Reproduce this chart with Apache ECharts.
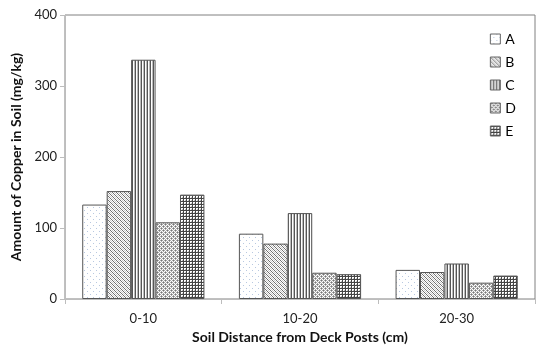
<!DOCTYPE html>
<html><head><meta charset="utf-8">
<script src="https://cdn.jsdelivr.net/npm/echarts@6/dist/echarts.min.js"></script>
<style>html,body{margin:0;padding:0;background:#fff}#c{width:537px;height:349px}</style>
</head><body><div id="c"></div>
<script>
const categories = ['0-10', '10-20', '20-30'];
const seriesNames = ['A', 'B', 'C', 'D', 'E'];
const valuesA = [133, 92, 41];
const valuesB = [152, 78, 38];
const valuesC = [337, 121, 50];
const valuesD = [108, 37, 23];
const valuesE = [147, 35, 33];
const yTicks = [0, 100, 200, 300, 400];

function makePattern(w, h, draw) {
  const c = document.createElement('canvas');
  c.width = w; c.height = h;
  const ctx = c.getContext('2d');
  ctx.fillStyle = '#fff'; ctx.fillRect(0, 0, w, h);
  draw(ctx);
  return { image: c, repeat: 'repeat' };
}
const patA = makePattern(6, 6, ctx => {
  ctx.fillStyle = '#b8c8e0';
  ctx.fillRect(0, 0, 1, 1);
  ctx.fillRect(3, 3, 1, 1);
});
const patB = makePattern(4, 4, ctx => {
  ctx.fillStyle = '#c8c8c8';
  for (let y = 0; y < 4; y++) for (let x = 0; x < 4; x++) if ((x + y) % 2 === 0) ctx.fillRect(x, y, 1, 1);
  ctx.fillStyle = '#707070';
  for (let i = 0; i < 4; i++) { ctx.fillRect(i, i, 1, 1); }
});
const patC = makePattern(3, 3, ctx => {
  ctx.fillStyle = '#555';
  ctx.fillRect(0, 0, 1, 3);
  ctx.fillStyle = '#bbb';
  ctx.fillRect(2, 0, 1, 3);
});
const patD = makePattern(4, 4, ctx => {
  ctx.fillStyle = '#aaa';
  for (let y = 0; y < 4; y++) for (let x = 0; x < 4; x++) if ((x + y) % 2 === 0) ctx.fillRect(x, y, 1, 1);
  ctx.fillStyle = '#777';
  ctx.fillRect(1, 0, 1, 1); ctx.fillRect(3, 2, 1, 1);
});
const patE = makePattern(3, 3, ctx => {
  ctx.fillStyle = '#444';
  ctx.fillRect(0, 0, 1, 3);
  ctx.fillRect(0, 0, 3, 1);
  ctx.fillStyle = '#bbb';
  ctx.fillRect(2, 2, 1, 1);
});
const patterns = [patA, patB, patC, patD, patE];
const allValues = [valuesA, valuesB, valuesC, valuesD, valuesE];

const FONT = 'Lato';
const chart = echarts.init(document.getElementById('c'), null, { renderer: 'canvas' });
chart.setOption({
  animation: false,
  backgroundColor: '#fff',
  grid: { left: 65, right: 2, top: 15, bottom: 48, show: true, borderColor: '#808080', borderWidth: 1 },
  legend: {
    orient: 'vertical', right: 16, top: 27, itemWidth: 10, itemHeight: 10, itemGap: 9,
    icon: 'rect',
    itemStyle: { borderWidth: 1, borderColor: '#666' },
    textStyle: { fontFamily: FONT, fontSize: 14, color: '#000' },
    data: seriesNames
  },
  xAxis: {
    type: 'category', data: categories,
    axisLine: { lineStyle: { color: '#bdbdbd' } },
    axisTick: { show: true, length: 5, lineStyle: { color: '#bdbdbd' } },
    axisLabel: { fontFamily: FONT, fontSize: 13, color: '#222', margin: 13 },
    name: 'Soil Distance from Deck Posts (cm)', nameLocation: 'middle', nameGap: 31,
    nameTextStyle: { fontFamily: FONT, fontSize: 14, fontWeight: 'bold', color: '#111' }
  },
  yAxis: {
    type: 'value', min: 0, max: 400, interval: 100,
    axisLine: { show: true, lineStyle: { color: '#bdbdbd' } },
    axisTick: { show: true, length: 5, lineStyle: { color: '#bdbdbd' } },
    splitLine: { show: false },
    axisLabel: { fontFamily: FONT, fontSize: 13, color: '#222', margin: 8,
      formatter: v => yTicks.includes(v) ? String(v) : '' },
    name: 'Amount of Copper in Soil (mg/kg)', nameLocation: 'middle', nameGap: 40,
    nameTextStyle: { fontFamily: FONT, fontSize: 14, fontWeight: 'bold', color: '#111' }
  },
  series: seriesNames.map((n, i) => ({
    name: n, type: 'bar', data: allValues[i],
    barGap: '0%', barCategoryGap: '22%',
    itemStyle: { color: patterns[i], borderColor: '#555', borderWidth: 1 }
  }))
});
</script></body></html>
